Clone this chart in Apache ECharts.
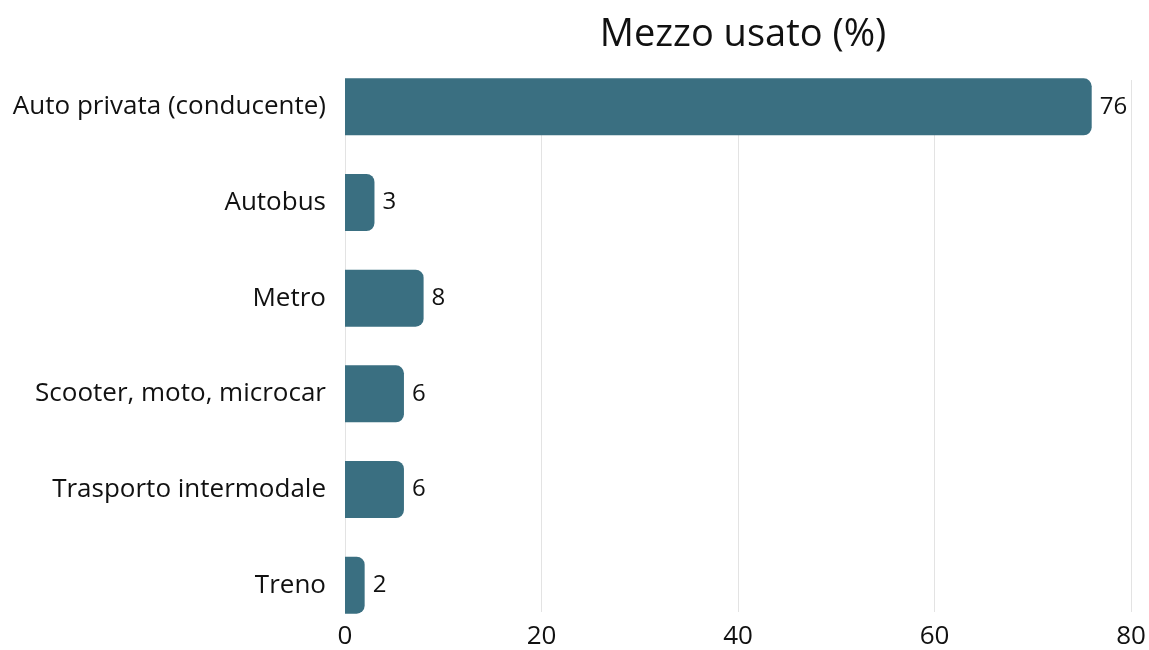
<!DOCTYPE html>
<html>
<head>
<meta charset="utf-8">
<script src="https://cdn.jsdelivr.net/npm/echarts@6/dist/echarts.min.js"></script>
<style>
  html, body { margin: 0; padding: 0; background: #fff; }
  #chart { width: 1149px; height: 650px; }
</style>
</head>
<body>
<div id="chart"></div>
<script>
var categories = ['Auto privata (conducente)', 'Autobus', 'Metro', 'Scooter, moto, microcar', 'Trasporto intermodale', 'Treno'];
var values = [76, 3, 8, 6, 6, 2];
var xTicks = [0, 20, 40, 60, 80];

var myChart = echarts.init(document.getElementById('chart'));
var font = 'Open Sans';

var option = {
    backgroundColor: '#ffffff',
    animation: false,
    title: {
        text: 'Mezzo usato (%)',
        left: 738,
        textAlign: 'center',
        top: 11,
        textStyle: { fontFamily: font, fontWeight: 'normal', fontSize: 38, color: '#111' }
    },
    grid: [
        // bars
        { left: 345, right: 18, top: 59, height: 574 },
        // gridlines + x labels
        { left: 345, right: 18, top: 80, bottom: 37 }
    ],
    xAxis: [
        {
            gridIndex: 0, type: 'value', min: 0, max: 80, interval: 20,
            show: false
        },
        {
            gridIndex: 1, type: 'value', min: xTicks[0], max: xTicks[xTicks.length - 1], interval: 20,
            axisLine: { show: false },
            axisTick: { show: false },
            axisLabel: { margin: 12, fontFamily: font, fontSize: 26, color: '#111' },
            splitLine: { lineStyle: { color: '#e3e3e3', width: 1 } }
        }
    ],
    yAxis: [
        {
            gridIndex: 0, type: 'category', data: categories, inverse: true,
            axisLine: { show: false },
            axisTick: { show: false },
            axisLabel: { margin: 19, fontFamily: font, fontSize: 26, color: '#111' }
        },
        {
            gridIndex: 1, type: 'category', data: categories, show: false
        }
    ],
    series: [
        {
            type: 'bar',
            xAxisIndex: 0, yAxisIndex: 0,
            data: values,
            barWidth: 57,
            itemStyle: { color: '#3a6f81', borderRadius: [0, 8, 8, 0] },
            label: {
                show: true, position: 'right', distance: 8,
                fontFamily: font, fontSize: 24, color: '#111'
            }
        }
    ]
};

myChart.setOption(option);
</script>
</body>
</html>
